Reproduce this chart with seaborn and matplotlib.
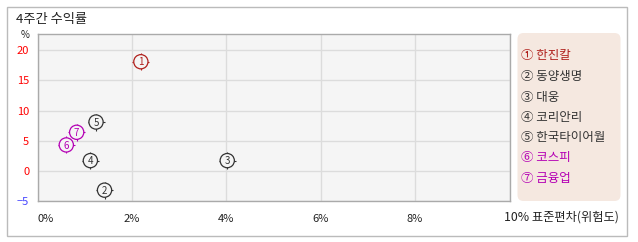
import matplotlib
matplotlib.use('Agg')
import matplotlib.pyplot as plt
import seaborn as sns
import pandas as pd
from matplotlib.patches import FancyBboxPatch, Rectangle
from matplotlib.transforms import IdentityTransform

# ---- data ----
names = ['한진칼', '동양생명', '대웅', '코리안리', '한국타이어월', '코스피', '금융업']
marks = ['①', '②', '③', '④', '⑤', '⑥', '⑦']
numbers = ['1', '2', '3', '4', '5', '6', '7']
std_dev = [2.19, 1.42, 4.02, 1.12, 1.24, 0.61, 0.83]
returns = [18.1, -3.2, 1.7, 1.7, 8.1, 4.3, 6.4]
colors = ['#b0201c', '#333333', '#333333', '#333333', '#333333', '#b400b4', '#b400b4']
x_ticks = [0, 2, 4, 6, 8, 10]
x_labels = ['0%', '2%', '4%', '6%', '8%', '']
x_axis_title = '10% 표준편차(위험도)'
y_ticks = [-5, 0, 5, 10, 15, 20]
y_labels = ['−5', '0', '5', '10', '15', '20']
y_label_colors = ['#4444ff', '#ff0000', '#ff0000', '#ff0000', '#ff0000', '#ff0000']

df = pd.DataFrame({'name': names, 'std': std_dev, 'ret': returns, 'num': numbers})

sns.set_theme(style='white')
FONT = ['Noto Sans CJK KR', 'DejaVu Sans']
plt.rcParams['font.family'] = FONT

W, H = 638, 242
fig = plt.figure(figsize=(W / 100, H / 100), dpi=100)
fig.patch.set_facecolor('white')

def fx(px):
    return px / W

def fy(py):
    return 1 - py / H

# outer border
fig.patches.append(Rectangle((fx(6.5), fy(235.5)), fx(627) - fx(6.5), fy(7.5) - fy(235.5),
                             transform=fig.transFigure, facecolor='none',
                             edgecolor='#bbbbbb', linewidth=1))

ax = fig.add_axes([fx(37.5), fy(201), fx(509.5) - fx(37.5), fy(34) - fy(201)])
ax.set_facecolor('#f5f5f5')
ax.set_xlim(0, 10)
ax.set_ylim(-5, 22.7)
ax.set_xticks(x_ticks)
ax.set_yticks(y_ticks)
ax.grid(True, color='#dcdcdc', linewidth=1)
ax.set_axisbelow(True)
for s in ax.spines.values():
    s.set_color('#aaaaaa')
    s.set_linewidth(1)
ax.tick_params(length=0)
ax.set_xticklabels(x_labels, fontsize=8, color='#222222')
ax.set_yticklabels(y_labels, fontsize=8)
for lab, c in zip(ax.get_yticklabels(), y_label_colors):
    lab.set_color(c)
ax.tick_params(axis='x', pad=9)
ax.tick_params(axis='y', pad=6)
xl = ax.get_xticklabels()
xl[0].set_horizontalalignment('left')

pal = dict(zip(names, colors))
# cross ticks behind circles
sns.scatterplot(data=df, x='std', y='ret', hue='name', palette=pal, marker='+',
                s=150, linewidth=0.8, legend=False, ax=ax, zorder=3)
# circles
sns.scatterplot(data=df, x='std', y='ret', hue='name', palette=pal, marker='o',
                s=105, linewidth=0.9, legend=False, ax=ax, zorder=4)
coll = ax.collections[-1]
fc = coll.get_facecolors()
coll.set_edgecolors(fc)
coll.set_facecolors('#f5f5f5')

for _, r in df.iterrows():
    ax.text(r['std'], r['ret'] - 0.1, r['num'], ha='center', va='center', fontsize=7,
            color=pal[r['name']], zorder=5, family=FONT)

ax.set_xlabel('')
ax.set_ylabel('')

# titles
fig.text(fx(16), fy(20), '4주간 수익률', fontsize=9.5, color='#222222', va='center', ha='left')
fig.text(fx(25), fy(35), '%', fontsize=7, color='#222222', va='center', ha='center')
fig.text(fx(504), fy(217), x_axis_title, fontsize=8.8, color='#222222', va='center', ha='left')

# legend box
fig.patches.append(FancyBboxPatch((517.5, H - 201), 103, 168,
                                  boxstyle='round,pad=0,rounding_size=6',
                                  transform=IdentityTransform(),
                                  facecolor='#f5e8e0', edgecolor='none'))
leg_y = [56, 76.5, 97, 117.3, 137.7, 158, 178.3]
for m, n, c, y in zip(marks, names, colors, leg_y):
    fig.text(fx(521), fy(y), m + ' ' + n, fontsize=9, color=c, va='center', ha='left')

fig.savefig('out.png', dpi=100)
